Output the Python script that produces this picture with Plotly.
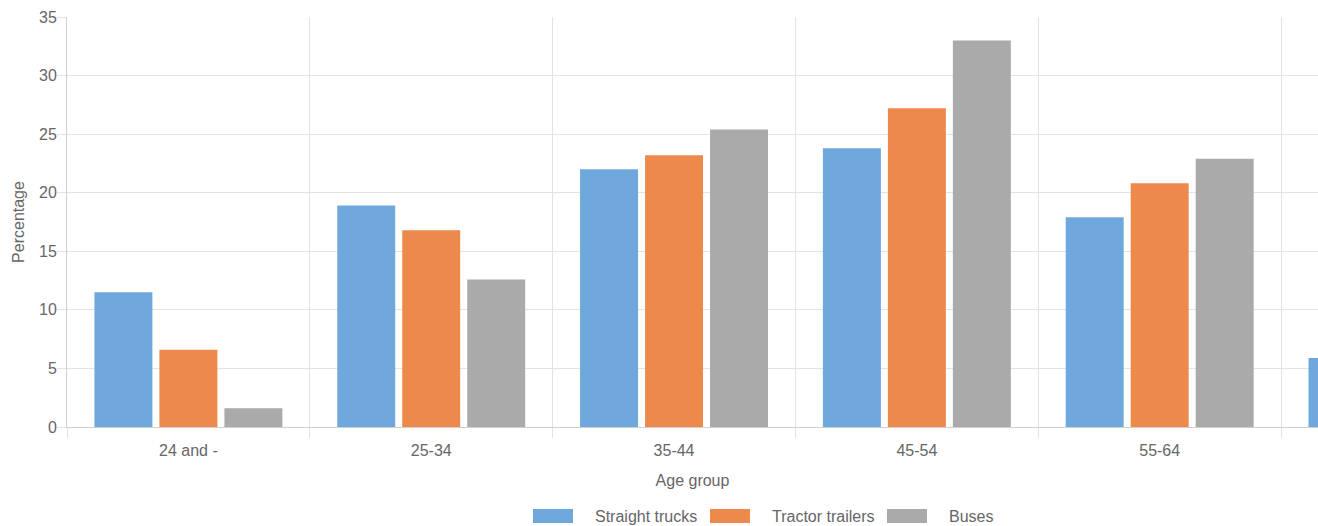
import plotly.graph_objects as go

# Age groups and share of drivers (%) by vehicle type
age_groups = ["24 and -", "25-34", "35-44", "45-54", "55-64", "65 and +"]
straight_trucks = [11.5, 18.9, 22.0, 23.8, 17.9, 5.9]
tractor_trailers = [6.6, 16.8, 23.2, 27.2, 20.8, 4.6]
buses = [1.6, 12.6, 25.4, 33.0, 22.9, 4.0]

series_names = ["Straight trucks", "Tractor trailers", "Buses"]
series_values = [straight_trucks, tractor_trailers, buses]
colors = ["#6fa8dc", "#ed894a", "#aaaaaa"]

W, H = 1318, 526
L, R, T, B = 67, 0, 17, 99
font_family = "Liberation Sans, Arial, sans-serif"
text_color = "#666666"
grid_color = "#e3e3e3"
fs = 16

fig = go.Figure()
for name, vals, col in zip(series_names, series_values, colors):
    fig.add_trace(go.Bar(
        x=age_groups, y=vals, name=name,
        marker=dict(color=col, line=dict(width=0)),
        showlegend=False, hoverinfo="x+y+name",
    ))

# Custom legend: wide colour swatches with labels below the plot
plot_w = W - L - R
plot_h = H - T - B
def px_x(px):
    return (px - L) / plot_w
def px_y(py):
    return (H - B - py) / plot_h

swatch_x = [533, 710, 887]
for sx, name, col in zip(swatch_x, series_names, colors):
    fig.add_shape(type="rect", xref="paper", yref="paper",
                  x0=px_x(sx), x1=px_x(sx + 40), y0=px_y(523), y1=px_y(509),
                  fillcolor=col, line=dict(width=0))
    fig.add_annotation(xref="paper", yref="paper", x=px_x(sx + 60), y=px_y(516),
                       text=name, showarrow=False, xanchor="left", yanchor="middle",
                       font=dict(family=font_family, size=fs, color=text_color))

fig.update_layout(
    width=W, height=H,
    margin=dict(l=L, r=R, t=T, b=B, pad=0),
    paper_bgcolor="white", plot_bgcolor="white",
    barmode="group", bargap=0.197, bargroupgap=0.108,
    font=dict(family=font_family, size=fs, color=text_color),
    xaxis=dict(
        type="category", range=[-0.5, 4.652],
        tickson="boundaries", ticks="outside", ticklen=10, tickcolor=grid_color,
        showgrid=True, gridcolor=grid_color, gridwidth=1,
        showline=True, linecolor="#d0d0d0", linewidth=1,
        tickfont=dict(size=fs, color=text_color),
        ticklabelstandoff=9,
        title=dict(text="Age group", font=dict(size=fs, color=text_color), standoff=16),
    ),
    yaxis=dict(
        range=[0, 35], tickmode="linear", tick0=0, dtick=5,
        ticks="outside", ticklen=9, tickcolor=grid_color,
        showgrid=True, gridcolor=grid_color, gridwidth=1,
        showline=True, linecolor="#d0d0d0", linewidth=1,
        zeroline=False,
        tickfont=dict(size=fs, color=text_color),
        ticklabelstandoff=-3,
        title=dict(text="Percentage", font=dict(size=fs, color=text_color), standoff=10),
    ),
)

fig.write_html("out.html")
